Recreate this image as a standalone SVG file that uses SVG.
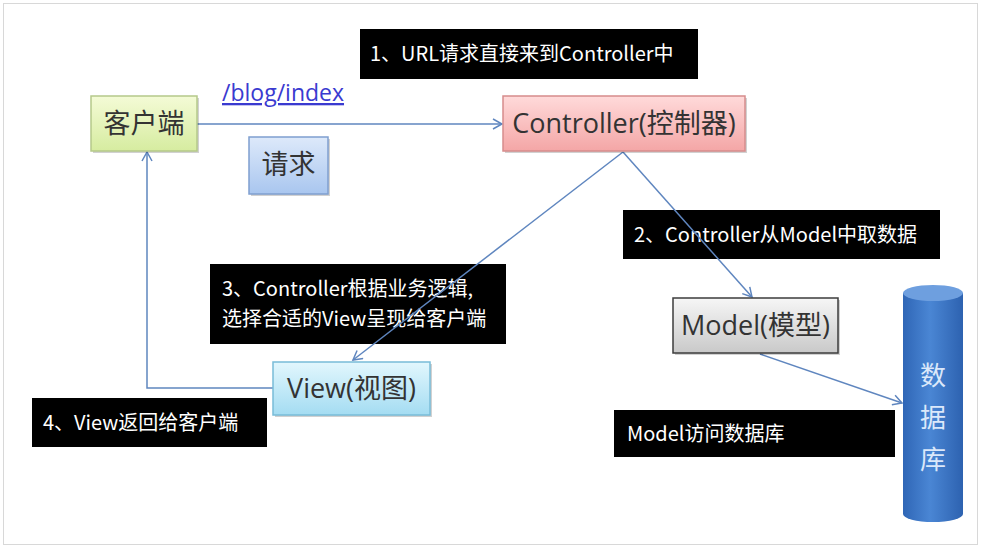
<svg xmlns="http://www.w3.org/2000/svg" width="981" height="548" viewBox="0 0 981 548">
<style>
.t{font-family:"Open Sans","Liberation Sans","Noto Sans CJK SC",sans-serif;fill:#333;font-size:27px;}
.lb{font-family:"Noto Sans CJK SC",sans-serif;fill:#fff;font-size:20px;}
.blk{fill:#000;}
.ln{stroke:#5f86bf;stroke-width:1.5;fill:none;}
.sh{fill:#000;opacity:0.18;}
</style>
<defs>
<marker id="ah" markerWidth="12" markerHeight="12" refX="10" refY="6" orient="auto" markerUnits="userSpaceOnUse">
<path d="M1,1 L10,6 L1,11" fill="none" stroke="#5f86bf" stroke-width="1.5"/>
</marker>
<linearGradient id="gY" x1="0" y1="0" x2="0" y2="1"><stop offset="0" stop-color="#f4fbd6"/><stop offset="1" stop-color="#d6eca0"/></linearGradient>
<linearGradient id="gB" x1="0" y1="0" x2="0" y2="1"><stop offset="0" stop-color="#dde9fa"/><stop offset="1" stop-color="#a9c6ef"/></linearGradient>
<linearGradient id="gR" x1="0" y1="0" x2="0" y2="1"><stop offset="0" stop-color="#ffdada"/><stop offset="1" stop-color="#f4a6a6"/></linearGradient>
<linearGradient id="gG" x1="0" y1="0" x2="0" y2="1"><stop offset="0" stop-color="#f6f6f6"/><stop offset="1" stop-color="#c9c9c9"/></linearGradient>
<linearGradient id="gC" x1="0" y1="0" x2="0" y2="1"><stop offset="0" stop-color="#e2f7fd"/><stop offset="1" stop-color="#a4dcf2"/></linearGradient>
<linearGradient id="gDB" x1="0" y1="0" x2="1" y2="0"><stop offset="0" stop-color="#2f66b6"/><stop offset="0.45" stop-color="#4a86d4"/><stop offset="1" stop-color="#2d62b0"/></linearGradient>
</defs>
<rect x="0" y="0" width="981" height="548" fill="#fff"/>
<rect x="3.5" y="3.5" width="974" height="541" fill="none" stroke="#d8d8d8" stroke-width="1"/>

<g id="label1">
<rect class="blk" x="360" y="29" width="338" height="50"/>
<text class="lb" x="370" y="61">1、URL请求直接来到Controller中</text>
</g>

<g id="label2">
<rect class="blk" x="623" y="210" width="317" height="49"/>
<text class="lb" x="634" y="242">2、Controller从Model中取数据</text>
</g>

<g id="label3">
<rect class="blk" x="210" y="264" width="296" height="80"/>
<text class="lb" x="222" y="296">3、Controller根据业务逻辑,</text>
<text class="lb" x="222" y="326">选择合适的View呈现给客户端</text>
</g>

<g id="label4">
<rect class="blk" x="32" y="398" width="235" height="49"/>
<text class="lb" x="43" y="430">4、View返回给客户端</text>
</g>

<g id="label5">
<rect class="blk" x="614" y="410" width="281" height="47"/>
<text class="lb" x="627" y="441">Model访问数据库</text>
</g>

<g id="connectors">
<line class="ln" x1="197" y1="124" x2="502" y2="124" marker-end="url(#ah)"/>
<line class="ln" x1="623" y1="152" x2="353" y2="360" marker-end="url(#ah)"/>
<line class="ln" x1="623" y1="152" x2="752" y2="297" marker-end="url(#ah)"/>
<polyline class="ln" points="273,388 147,388 147,152" marker-end="url(#ah)"/>
<line class="ln" x1="760" y1="354" x2="902" y2="403" marker-end="url(#ah)"/>
</g>

<g id="client">
<rect class="sh" x="93" y="98" width="106" height="55"/>
<rect x="91" y="96" width="106" height="55" fill="url(#gY)" stroke="#b5c98a" stroke-width="1.5"/>
<text class="t" x="144" y="133" text-anchor="middle">客户端</text>
</g>

<g id="url">
<text x="222" y="101" font-family="Open Sans, Liberation Sans, sans-serif" font-size="23" fill="#3a3ad0" text-decoration="underline">/blog/index</text>
</g>

<g id="request">
<rect class="sh" x="251" y="139" width="79" height="57"/>
<rect x="249" y="137" width="79" height="57" fill="url(#gB)" stroke="#7f9fcf" stroke-width="1.5"/>
<text class="t" x="288.5" y="174" text-anchor="middle" font-size="25">请求</text>
</g>

<g id="controller">
<rect class="sh" x="505" y="98" width="242" height="55"/>
<rect x="503" y="96" width="242" height="55" fill="url(#gR)" stroke="#d68c8c" stroke-width="1.5"/>
<text class="t" x="624" y="133" text-anchor="middle">Controller(控制器)</text>
</g>

<g id="model">
<rect class="sh" x="675" y="300" width="165" height="55"/>
<rect x="673" y="298" width="165" height="55" fill="url(#gG)" stroke="#3c3c3c" stroke-width="1.5"/>
<text class="t" x="755.5" y="335" text-anchor="middle">Model(模型)</text>
</g>

<g id="view">
<rect class="sh" x="275" y="364" width="157" height="53"/>
<rect x="273" y="362" width="157" height="53" fill="url(#gC)" stroke="#78bcd8" stroke-width="1.5"/>
<text class="t" x="351.5" y="398" text-anchor="middle">View(视图)</text>
</g>

<g id="database">
<path d="M903,293 L903,514 A30,8 0 0 0 963,514 L963,293 Z" fill="url(#gDB)"/>
<ellipse cx="933" cy="293" rx="30" ry="8" fill="#6e9fdf"/>
<text x="933" y="385" text-anchor="middle" font-family="Noto Sans CJK SC, sans-serif" font-size="26" fill="#dbe8fa">数</text>
<text x="933" y="427" text-anchor="middle" font-family="Noto Sans CJK SC, sans-serif" font-size="26" fill="#dbe8fa">据</text>
<text x="933" y="469" text-anchor="middle" font-family="Noto Sans CJK SC, sans-serif" font-size="26" fill="#dbe8fa">库</text>
</g>
</svg>
